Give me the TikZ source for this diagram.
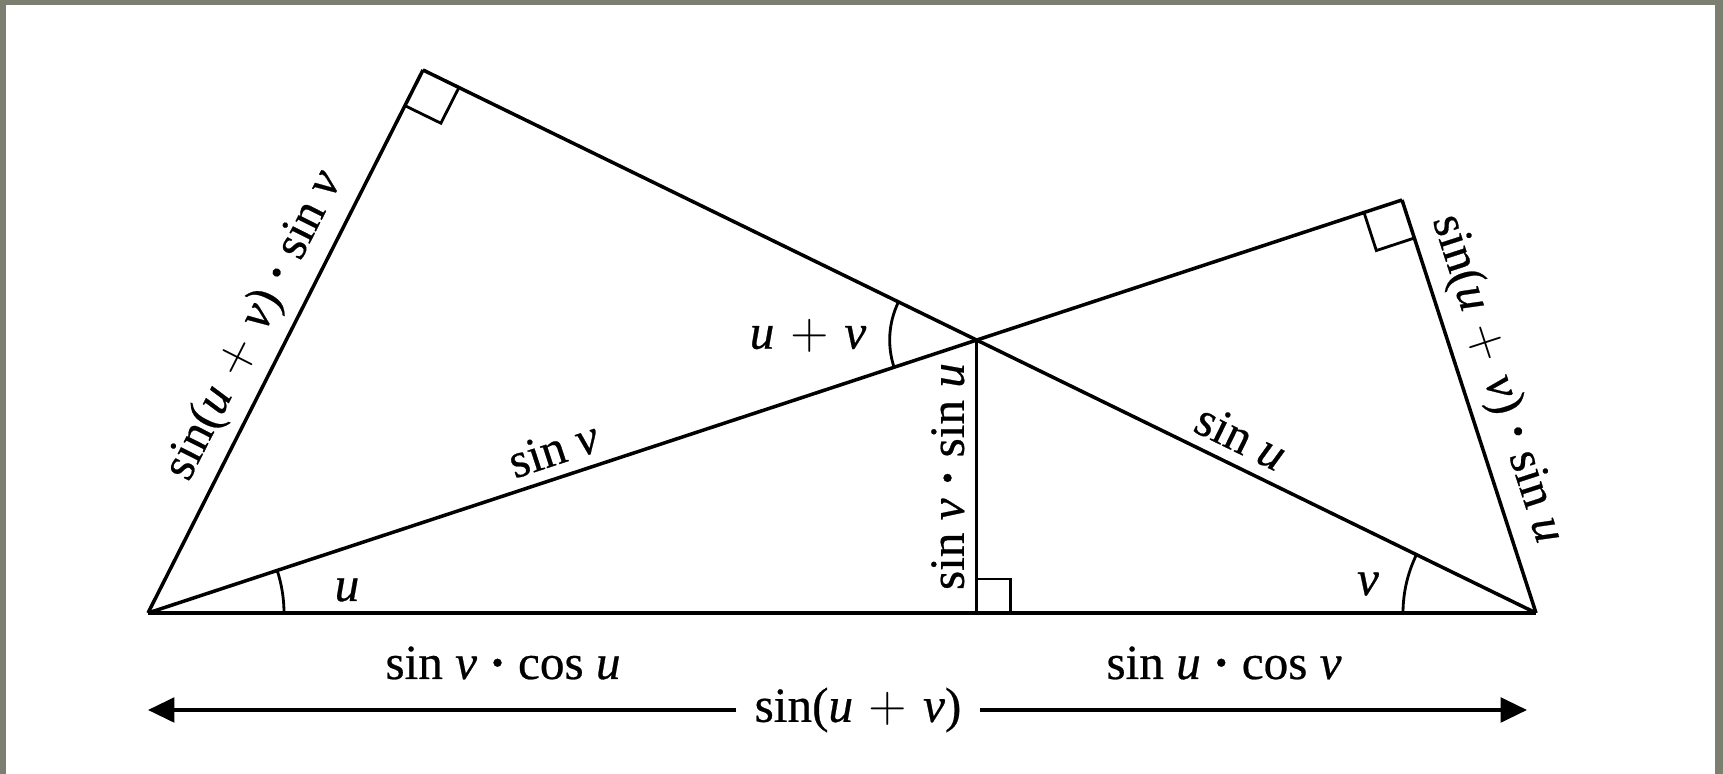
\documentclass[tikz,border=0pt]{standalone}
\usepackage{fontspec}
\setmainfont{Liberation Serif}
\newfontfamily\lblfont{Liberation Serif}[FakeBold=0.5]
\usepackage{tikz}
\usetikzlibrary{positioning, calc, angles, arrows.meta}
\definecolor{framegray}{RGB}{124,127,112}
\tikzset{
  edge/.style={line width=1pt},
  lbl/.style={font=\lblfont\fontsize{14}{16}\selectfont, inner sep=3pt},
  anglemark/.style={draw, line width=0.8pt, angle radius=1.36cm},
  rightmark/.style={draw, line width=0.8pt, angle radius=0.4cm},
  dimarrow/.style={line width=1pt, -{Triangle[length=7.5pt, width=7pt]}},
}
\newcommand{\symu}{\textit{u}}
\newcommand{\symv}{\textit{v}}
\newcommand{\splus}{\hspace{0.32em}$+$\hspace{0.32em}}
\newcommand{\sdot}{ \textbf{·} }

\begin{document}
\begin{tikzpicture}
        % Frame
        \fill[framegray] (0,0) rectangle (17.23,7.74);
        \fill[white] (0.06,0) rectangle (17.15,7.69);
        \useasboundingbox (0,0) rectangle (17.23,7.74);

        % Corners
        \coordinate (A) at (1.48,1.61);
        \coordinate (B) at (15.36,1.61);
        \coordinate (C) at (4.23,7.04);
        \coordinate (D) at (14.02,5.74);
        \coordinate (P) at (intersection of A--D and B--C);
        \coordinate (F) at ($(A)!(P)!(B)$);

        % Sides
        \draw[edge] (A) -- (C) node[lbl, midway, sloped, above] (lac) {sin(\symu\splus\symv)\sdot sin \symv};
        \draw[edge] (C) -- (P);
        \draw[edge] (P) -- (B) node[lbl, pos=0.45, sloped, above] (lpb) {sin \symu};
        \draw[edge] (A) -- (P) node[lbl, midway, sloped, above] (lap) {sin \symv};
        \draw[edge] (P) -- (D);
        \draw[edge] (D) -- (B) node[lbl, pos=0.46, sloped, above] (ldb) {sin(\symu\splus\symv)\sdot sin \symu};
        \draw[edge] (A) -- (B);
        \draw[edge] (F) -- (P) node[lbl, midway, sloped, above] (lpf) {sin \symv{}\sdot sin \symu};

        % Angles
        \pic[anglemark] {angle = B--A--P};
        \pic[anglemark, angle radius=1.33cm] {angle = P--B--A};
        \pic[anglemark, angle radius=0.87cm] {angle = C--P--A};
        \pic[rightmark] {right angle = A--C--B};
        \pic[rightmark] {right angle = A--D--B};
        \pic[rightmark, angle radius=0.34cm] {right angle = B--F--P};

        % Angle labels
        \node[lbl] (angu) at (3.47,1.84) {\symu};
        \node[lbl] (angv) at (13.68,1.90) {\symv};
        \node[lbl] (anguv) at (8.08,4.38) {\symu\splus\symv};

        % Base labels
        \node[lbl] (leftpart) at (5.03,1.11) {sin \symv{}\sdot cos \symu};
        \node[lbl] (rightpart) at (12.24,1.11) {sin \symu{}\sdot cos \symv};
        \node[lbl, inner sep=5pt] (total) at (8.58,0.64) {sin(\symu\splus\symv)};

        % Dimension arrows
        \coordinate (arrL) at (1.48,0.64);
        \coordinate (arrR) at (15.27,0.64);
        \draw[dimarrow] (total) -- (arrL);
        \draw[dimarrow] (total) -- (arrR);
\end{tikzpicture}
\end{document}
